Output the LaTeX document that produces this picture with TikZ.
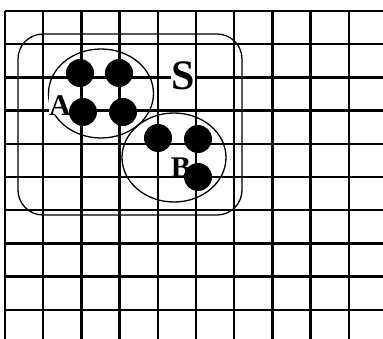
\documentclass[tikz,border=0pt]{standalone}
\usepackage{fontspec}
\setmainfont{Liberation Serif}
\usetikzlibrary{shapes.geometric}

\begin{document}
\begin{tikzpicture}[x=1pt,y=-1pt,
    gridline/.style={line width=2.4pt},
    setline/.style={draw,line width=1.3pt,inner sep=0pt},
    elem/.style={circle,fill,inner sep=0pt,minimum size=28pt},
    lbl/.style={font=\bfseries\fontsize{30}{30}\selectfont,inner sep=0pt,fill=white}]
  \useasboundingbox (0,0) rectangle (383,339);
  % grid
  \foreach \i in {0,...,9}{
    \draw[gridline] (5+38.2*\i,11) -- (5+38.2*\i,339);
    \draw[gridline] (5,11+33.2*\i) -- (383,11+33.2*\i);
  }
  % universe and subsets
  \node[setline,rounded corners=25pt,minimum width=224pt,minimum height=181pt] (setS) at (130,124.5) {};
  \node[setline,ellipse,minimum width=105pt,minimum height=89pt] (setA) at (101,93.5) {};
  \node[setline,ellipse,minimum width=104pt,minimum height=89pt] (setB) at (174,157.5) {};
  \node[lbl,font=\bfseries\fontsize{42}{42}\selectfont] (labS) at (183,76) {S};
  \node[lbl] (labA) at (60,105.5) {A};
  \node[lbl] (labB) at (181,167.5) {B};
  % elements
  \foreach \n/\x/\y in {a1/80/73,a2/119/73,a3/83/112,a4/123/112,b1/158/138,b2/198/139,b3/198/177}{
    \node[elem] (\n) at (\x,\y) {};
  }
\end{tikzpicture}
\end{document}
